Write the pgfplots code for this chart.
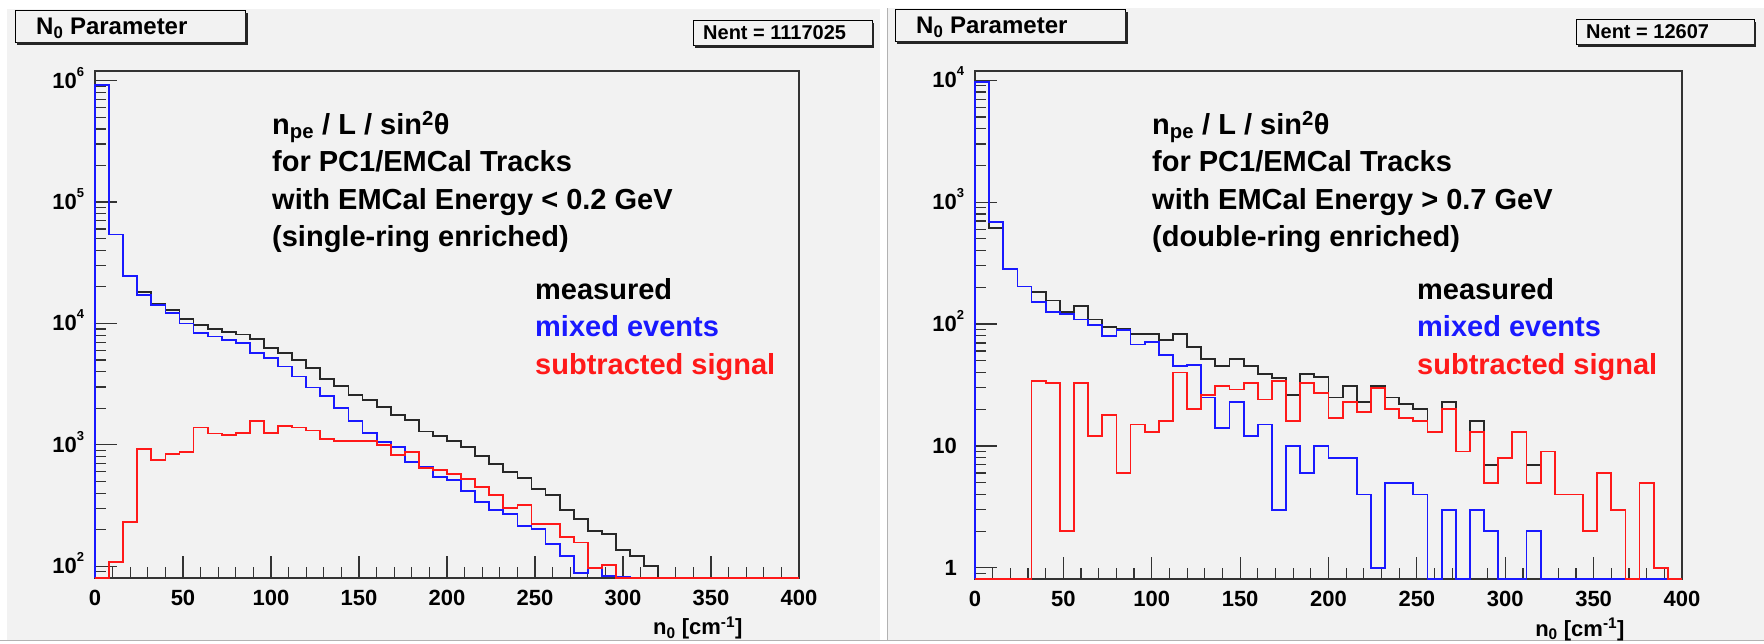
\documentclass[border=0pt]{standalone}
\usepackage{pgfplots}
\pgfplotsset{compat=1.18}
\usepackage{pgfplotstable}
\usepackage{fontspec}
\setmainfont{Liberation Sans}
\definecolor{panel}{RGB}{242,242,242}
\definecolor{hblue}{RGB}{25,25,255}
\definecolor{hred}{RGB}{255,25,25}
\definecolor{hblack}{RGB}{40,40,40}
\newcommand\F[1]{\fontsize{#1}{#1}\selectfont\bfseries}
\newcommand\sy[1]{10\rlap{\smash{\raisebox{0.55em}{\fontsize{13}{13}\selectfont\bfseries #1}}}}

\pgfplotstableread{
x meas mix sub
0 80 80 80
0 9.2e5 9.2e5 80
8 5.4e4 5.4e4 108
16 2.45e4 2.45e4 233
24 1.82e4 1.71e4 929
32 1.46e4 1.42e4 745
40 1.29e4 1.21e4 840
48 1.09e4 1.0e4 877
56 9.7e3 8.4e3 1390
64 9.0e3 7.8e3 1240
72 8.5e3 7.3e3 1200
80 8.1e3 6.95e3 1260
88 7.5e3 5.75e3 1580
96 6.3e3 5.17e3 1260
104 5.75e3 4.42e3 1420
112 5.0e3 3.66e3 1390
120 4.28e3 2.97e3 1310
128 3.5e3 2.53e3 1120
136 3.06e3 2.01e3 1080
144 2.58e3 1.56e3 1080
152 2.35e3 1.26e3 1080
160 2.05e3 1.05e3 1000
168 1.75e3 953 829
176 1.61e3 722 877
184 1.29e3 653 640
192 1.18e3 544 624
200 1.08e3 516 575
208 953 414 526
216 804 338 450
224 695 289 384
232 593 271 302
240 533 216 321
248 433 204 223
256 389 153 223
264 289 121 175
272 246 88 157
280 195 97 97
288 184 83 102
296 136 82 80
304 121 80 80
312 100 80 80
320 80 80 80
328 80 80 80
336 80 80 80
344 80 80 80
352 80 80 80
360 80 80 80
368 80 80 80
376 80 80 80
384 80 80 80
392 80 80 80
400 80 80 80
400 80 80 80
}\lefttab

\pgfplotstableread{
x meas mix sub
0 0.81 0.81 0.81
0 9700 9600 0.81
8 616 686 0.81
16 283 283 0.81
24 203 203 0.81
32 184 151 34
40 156 125 33
48 126 121 2
56 141 109 33
64 109 98 12
72 95 80 18
80 92 89 6
88 83 68 15
96 83 71 13
104 74 56 16
112 83 45 40
120 65 46 20
128 52 25 26
136 45 14 31
144 52 23 29
152 45 12 33
160 39 15 24
168 36 3 34
176 26 10 16
184 39 6 33
192 37 10 27
200 25 8 17
208 31 8 23
216 23 4 19
224 31 1 30
232 25 5 20
240 22 5 17
248 20 4 16
256 13 0.81 13
264 23 3 20
272 9 0.81 9
280 16 3 13
288 7 2 5
296 8 0.81 8
304 13 0.81 13
312 7 2 5
320 9 0.81 9
328 4 0.81 4
336 4 0.81 4
344 2 0.81 2
352 6 0.81 6
360 3 0.81 3
368 0.81 0.81 0.81
376 5 0.81 5
384 1 0.81 1
392 0.81 0.81 0.81
400 0.81 0.81 0.81
}\righttab

\begin{document}
\begin{tikzpicture}[x=1pt,y=1pt]
\useasboundingbox (0,0) rectangle (1764,643);
\fill[white] (0,0) rectangle (1764,643);
\fill[panel] (7,3) rectangle (880,634);
\fill[panel] (887,3) rectangle (1764,635);
\draw[gray!60, line width=1pt] (0,3) -- (1764,3);
\draw[gray!60, line width=1pt] (887,3) -- (887,635);

% ---------- left panel ----------
\begin{axis}[at={(95pt,65pt)}, anchor=south west, scale only axis,
  width=704pt, height=507pt,
  xmin=0, xmax=400, ymode=log, ymin=80, ymax=1.2e6,
  axis line style={line width=1.2pt, black!80},
  tick style={line width=1.2pt, black!80},
  tick align=inside, xtick pos=bottom, ytick pos=left,
  major tick length=22pt, minor tick length=11pt,
  xtick={0,50,...,400}, xticklabels={0,50,100,150,200,250,300,350,400},
  minor xtick={10,20,...,390},
  ticklabel style={font=\F{22}},
  yticklabel style={inner sep=0pt, xshift=-18pt},
  xticklabel style={inner sep=0pt, yshift=-12pt},
  clip=false,
  xlabel={n\textsubscript{0} [cm\textsuperscript{-1}]},
  xlabel style={at={(axis description cs:0.92,0)}, anchor=base east, yshift=-57pt, font=\F{22}, inner sep=0pt},
  ytick={100,1000,10000,100000,1000000},
  yticklabels={\sy{2},\sy{3},\sy{4},\sy{5},\sy{6}},
  minor ytick={90,200,300,400,500,600,700,800,900,2000,3000,4000,5000,6000,7000,8000,9000,20000,30000,40000,50000,60000,70000,80000,90000,200000,300000,400000,500000,600000,700000,800000,900000}]
\addplot[hblack, const plot, line width=1.8pt, no marks] table[x=x,y=meas] {\lefttab};
\addplot[hblue, const plot, line width=1.8pt, no marks] table[x=x,y=mix] {\lefttab};
\addplot[hred, const plot, line width=1.8pt, no marks] table[x=x,y=sub] {\lefttab};
\end{axis}

% ---------- right panel ----------
\begin{axis}[at={(975pt,64pt)}, anchor=south west, scale only axis,
  width=707pt, height=508pt,
  xmin=0, xmax=400, ymode=log, ymin=0.81, ymax=1.19e4,
  axis line style={line width=1.2pt, black!80},
  tick style={line width=1.2pt, black!80},
  tick align=inside, xtick pos=bottom, ytick pos=left,
  major tick length=22pt, minor tick length=11pt,
  xtick={0,50,...,400}, xticklabels={0,50,100,150,200,250,300,350,400},
  minor xtick={10,20,...,390},
  ticklabel style={font=\F{22}},
  yticklabel style={inner sep=0pt, xshift=-18pt},
  xticklabel style={inner sep=0pt, yshift=-12pt},
  clip=false,
  xlabel={n\textsubscript{0} [cm\textsuperscript{-1}]},
  xlabel style={at={(axis description cs:0.919,0)}, anchor=base east, yshift=-57pt, font=\F{22}, inner sep=0pt},
  ytick={1,10,100,1000,10000},
  yticklabels={1,10,\sy{2},\sy{3},\sy{4}},
  minor ytick={0.9,2,3,4,5,6,7,8,9,20,30,40,50,60,70,80,90,200,300,400,500,600,700,800,900,2000,3000,4000,5000,6000,7000,8000,9000}]
\addplot[hblack, const plot, line width=1.8pt, no marks] table[x=x,y=meas] {\righttab};
\addplot[hblue, const plot, line width=1.8pt, no marks] table[x=x,y=mix] {\righttab};
\addplot[hred, const plot, line width=1.8pt, no marks] table[x=x,y=sub] {\righttab};
\end{axis}

% ---------- title boxes ----------
\draw[black, line width=1pt] (15,600) rectangle (245,632);
\draw[black!85, line width=3pt] (17,599.5) -- (246.5,599.5) -- (246.5,630);
\node[anchor=base west, inner sep=0pt] at (36,608) {\F{24}N\textsubscript{0} Parameter};
\draw[black, line width=1pt] (895,601) rectangle (1125,633);
\draw[black!85, line width=3pt] (897,600.5) -- (1126.5,600.5) -- (1126.5,631);
\node[anchor=base west, inner sep=0pt] at (916,609) {\F{24}N\textsubscript{0} Parameter};

\draw[black, line width=1pt] (693,597) rectangle (872,622);
\draw[black!85, line width=2.5pt] (695,596.5) -- (873,596.5) -- (873,620);
\node[anchor=base west, inner sep=0pt] at (703,603) {\F{20}Nent = 1117025};
\draw[black, line width=1pt] (1576,598) rectangle (1754,623);
\draw[black!85, line width=2.5pt] (1578,597.5) -- (1755,597.5) -- (1755,621);
\node[anchor=base west, inner sep=0pt] at (1586,604) {\F{20}Nent = 12607};

% ---------- annotation texts ----------
\node[anchor=base west, inner sep=0pt] at (272,508) {\F{29}n\textsubscript{pe} / L / sin\textsuperscript{2}θ};
\node[anchor=base west, inner sep=0pt] at (272,471.3) {\F{29}for PC1/EMCal Tracks};
\node[anchor=base west, inner sep=0pt] at (272,433) {\F{29}with EMCal Energy < 0.2 GeV};
\node[anchor=base west, inner sep=0pt] at (272,396) {\F{29}(single-ring enriched)};
\node[anchor=base west, inner sep=0pt] at (535,343) {\F{29}measured};
\node[anchor=base west, inner sep=0pt, text=hblue] at (535,306.3) {\F{29}mixed events};
\node[anchor=base west, inner sep=0pt, text=hred] at (535,268) {\F{29}subtracted signal};

\node[anchor=base west, inner sep=0pt] at (1152,508) {\F{29}n\textsubscript{pe} / L / sin\textsuperscript{2}θ};
\node[anchor=base west, inner sep=0pt] at (1152,471.3) {\F{29}for PC1/EMCal Tracks};
\node[anchor=base west, inner sep=0pt] at (1152,433) {\F{29}with EMCal Energy > 0.7 GeV};
\node[anchor=base west, inner sep=0pt] at (1152,396) {\F{29}(double-ring enriched)};
\node[anchor=base west, inner sep=0pt] at (1417,343) {\F{29}measured};
\node[anchor=base west, inner sep=0pt, text=hblue] at (1417,306.3) {\F{29}mixed events};
\node[anchor=base west, inner sep=0pt, text=hred] at (1417,268) {\F{29}subtracted signal};
\end{tikzpicture}
\end{document}
